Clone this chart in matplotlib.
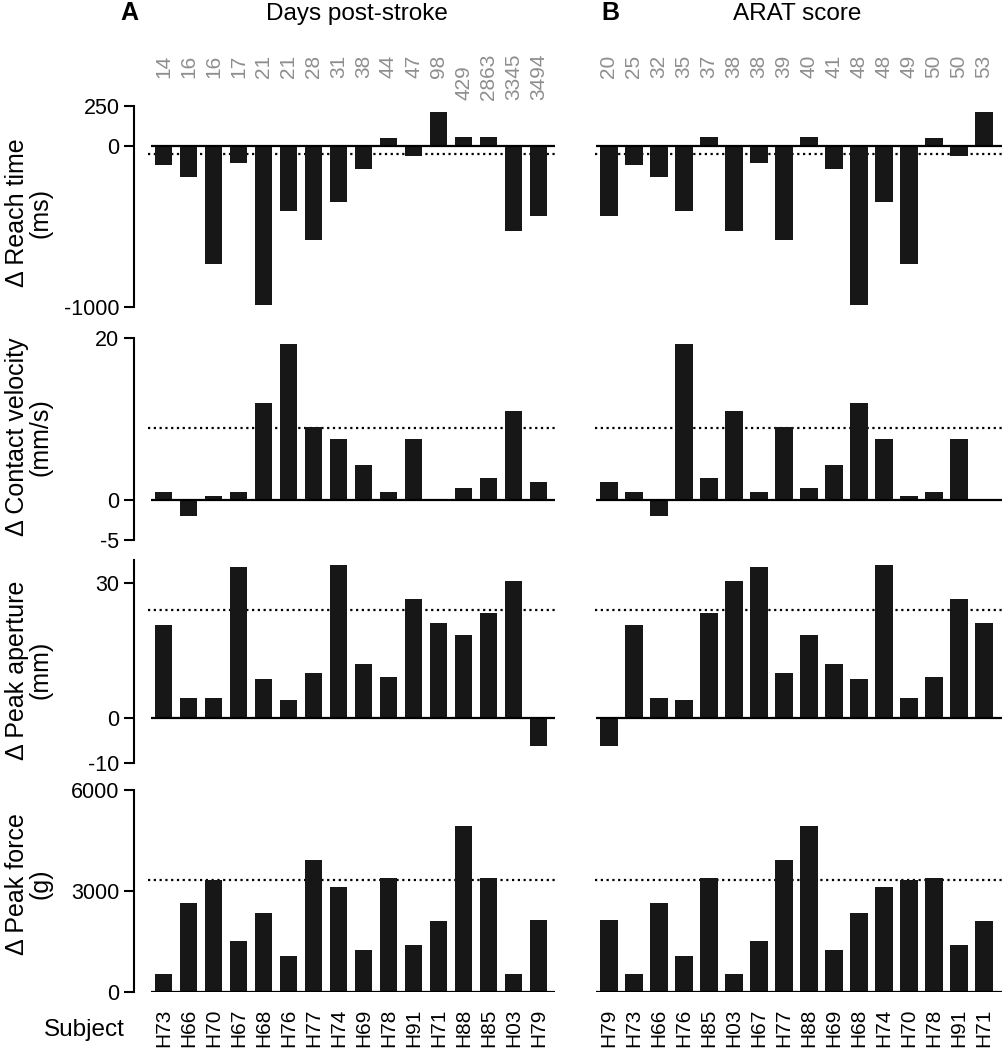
import numpy as np
import matplotlib
matplotlib.use('Agg')
import matplotlib.pyplot as plt
from matplotlib.transforms import blended_transform_factory

plt.rcParams['font.family'] = ['Liberation Sans', 'DejaVu Sans']
plt.rcParams['axes.unicode_minus'] = False

# subjects, ordered by days post-stroke (A) and by ARAT score (B)
subjects_a = ['H73', 'H66', 'H70', 'H67', 'H68', 'H76', 'H77', 'H74',
              'H69', 'H78', 'H91', 'H71', 'H88', 'H85', 'H03', 'H79']
days = [14, 16, 16, 17, 21, 21, 28, 31, 38, 44, 47, 98, 429, 2863, 3345, 3494]
subjects_b = ['H79', 'H73', 'H66', 'H76', 'H85', 'H03', 'H67', 'H77',
              'H88', 'H69', 'H68', 'H74', 'H70', 'H78', 'H91', 'H71']
arat = [20, 25, 32, 35, 37, 38, 38, 39, 40, 41, 48, 48, 49, 50, 50, 53]

# values given in subjects_a order
reach = [-115, -192, -733, -102, -987, -406, -581, -344,
         -140, 48, -62, 210, 60, 60, -529, -431]
velocity = [0.95, -2.06, 0.45, 0.95, 12.0, 19.3, 9.0, 7.5,
            4.25, 0.95, 7.5, 0.0, 1.45, 2.7, 11.0, 2.2]
aperture = [20.5, 4.5, 4.5, 33.5, 8.6, 4.0, 9.9, 33.9,
            12.0, 9.0, 26.3, 21.0, 18.3, 23.2, 30.3, -6.2]
force = [545, 2650, 3330, 1507, 2350, 1080, 3917, 3124,
         1260, 3372, 1388, 2100, 4940, 3372, 545, 2132]
ref_lines = [-48, 8.9, 24.0, 3315]

measures = [reach, velocity, aperture, force]
ylabels = ['\u0394 Reach time\n(ms)', '\u0394 Contact velocity\n(mm/s)',
           '\u0394 Peak aperture\n(mm)', '\u0394 Peak force\n(g)']
ylims = [(-1000, 250), (-5, 20), (-10, 35), (0, 6000)]
yticks = [[-1000, 0, 250], [-5, 0, 20], [-10, 0, 30], [0, 3000, 6000]]

W, H = 1003, 1050
fig = plt.figure(figsize=(W / 100, H / 100), dpi=100)

rows_px = [(106, 307), (338, 540), (560, 763), (790, 992)]
label_y = [213, 437, 670, 884]
cols = [(134, 421, (-1.18, 15.66), -0.62, subjects_a, days),
        (579.5, 423.5, (-1.18, 15.76), -0.56, subjects_b, arat)]

bar_color = '#171717'
gray = '#8e8e8e'

for r, vals in enumerate(measures):
    lookup = dict(zip(subjects_a, vals))
    top, bot = rows_px[r]
    for c, (left, width, xl, dot_start, order, toplabels) in enumerate(cols):
        ax = fig.add_axes([left / W, 1 - bot / H, width / W, (bot - top) / H])
        x = np.arange(len(order))
        y = [lookup[s] for s in order]
        ax.hlines(ref_lines[r], dot_start, xl[1], colors='k',
                  linestyles=(0, (1, 1.6)), lw=1.6, zorder=1)
        ax.bar(x, y, width=0.7, color=bar_color, zorder=2)
        ax.hlines(0, -0.5, xl[1], colors='k', lw=1.6, zorder=3)
        ax.set_xlim(*xl)
        ax.set_ylim(*ylims[r])
        for s in ['top', 'right', 'bottom']:
            ax.spines[s].set_visible(False)
        if c == 0:
            ax.spines['left'].set_linewidth(1.5)
            ax.set_yticks(yticks[r])
            ax.tick_params(axis='y', length=7.5, width=1.5, labelsize=15.5, pad=3)
            fig.text(29 / W, 1 - label_y[r] / H, ylabels[r], rotation=90,
                     ha='center', va='center', multialignment='center',
                     fontsize=18, linespacing=1.0)
        else:
            ax.spines['left'].set_visible(False)
            ax.set_yticks([])
        if r == 3:
            ax.set_xticks(x)
            ax.set_xticklabels(order, rotation=90, fontsize=15)
            ax.tick_params(axis='x', length=0, pad=12)
        else:
            ax.set_xticks([])
        if r == 0:
            tr = blended_transform_factory(ax.transData, fig.transFigure)
            for xi, lab in zip(x, toplabels):
                txt = str(lab)
                if len(txt) <= 2:
                    ax.text(xi, 1 - 55 / H, txt, transform=tr, rotation=90,
                            ha='center', va='top', fontsize=15, color=gray)
                else:
                    ax.text(xi, 1 - 100 / H, txt, transform=tr, rotation=90,
                            ha='center', va='bottom', fontsize=15, color=gray)

fig.text(129 / W, 1 - 20 / H, 'A', fontsize=18, fontweight='bold',
         ha='center', va='baseline')
fig.text(357 / W, 1 - 20 / H, 'Days post-stroke', fontsize=17.5,
         ha='center', va='baseline')
fig.text(610 / W, 1 - 20 / H, 'B', fontsize=18, fontweight='bold',
         ha='center', va='baseline')
fig.text(797 / W, 1 - 20 / H, 'ARAT score', fontsize=17.5,
         ha='center', va='baseline')
fig.text(84 / W, 1 - 1036 / H, 'Subject', fontsize=17.5,
         ha='center', va='baseline')

fig.savefig('out.png', dpi=100)
